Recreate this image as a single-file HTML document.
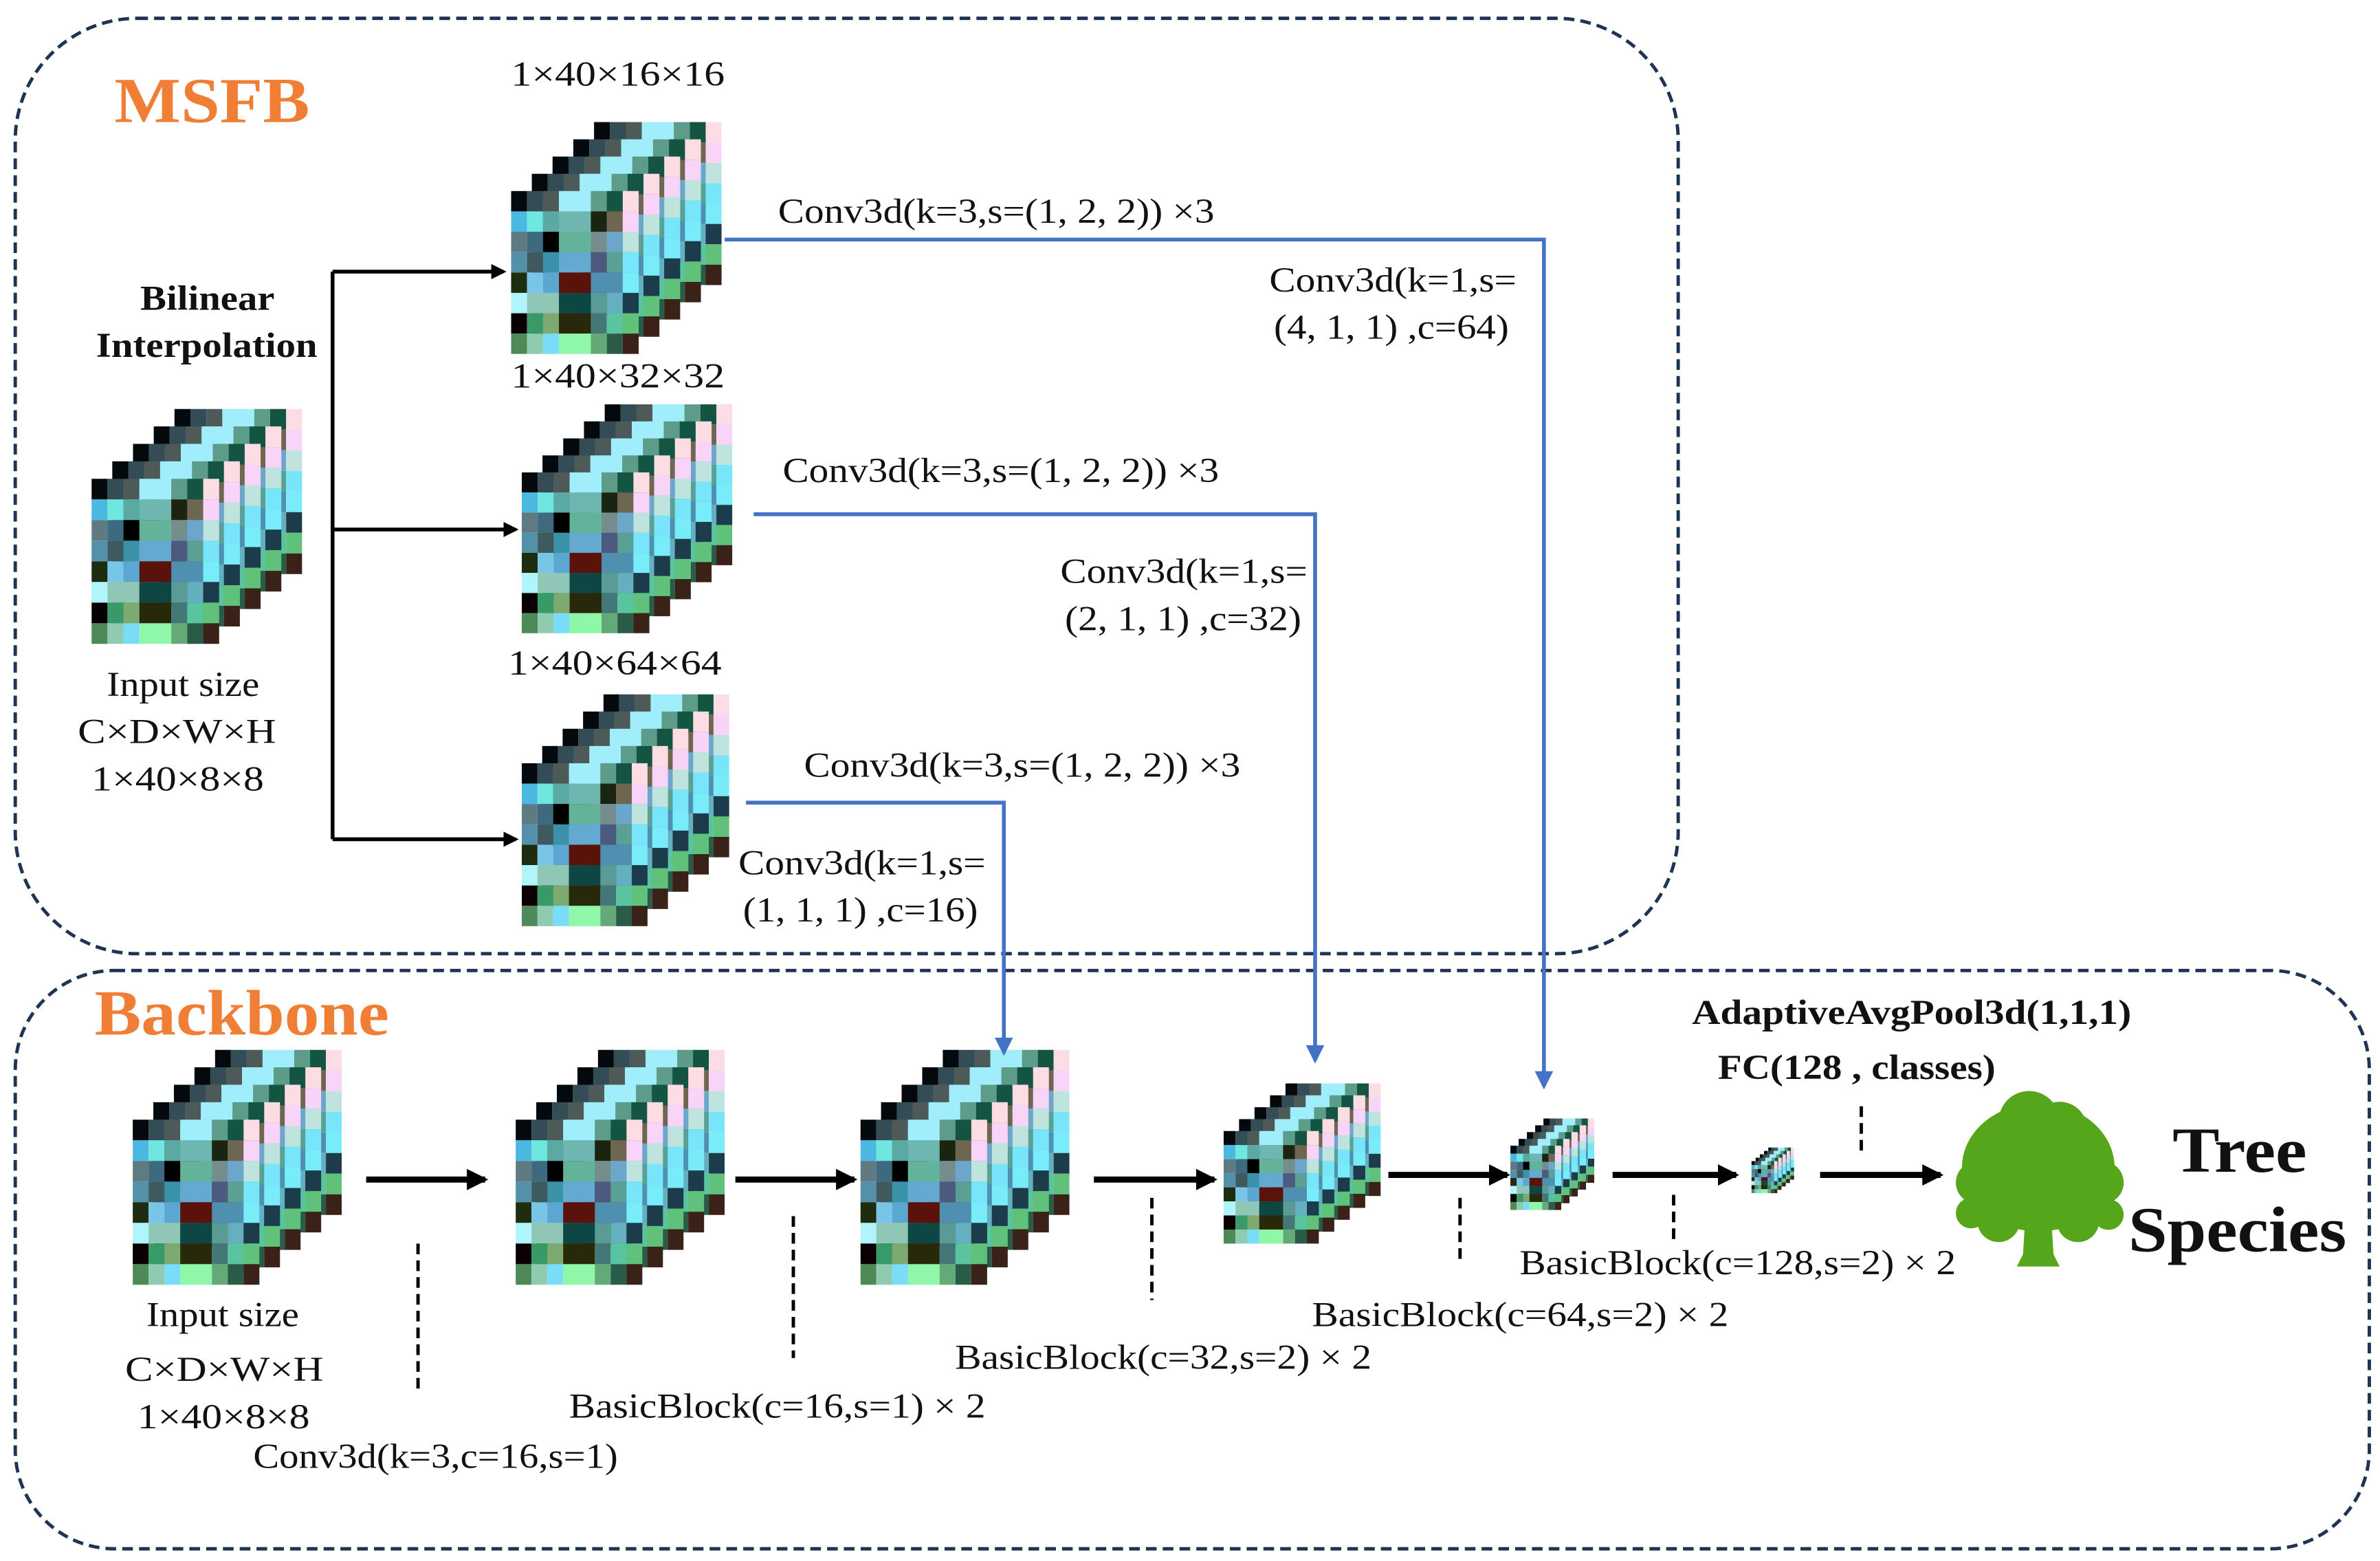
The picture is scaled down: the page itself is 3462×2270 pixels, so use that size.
<!DOCTYPE html>
<html><head><meta charset="utf-8"><style>html,body{margin:0;padding:0;background:#fff}svg{display:block}text{font-family:"Liberation Serif",serif;fill:#111}</style></head><body>
<svg width="3462" height="2270" viewBox="0 0 1560 1023" preserveAspectRatio="none" xmlns="http://www.w3.org/2000/svg">
<defs>
<marker id="ab" markerWidth="10" markerHeight="10" refX="8" refY="5" orient="auto" markerUnits="userSpaceOnUse"><path d="M0,0 L10,5 L0,10 z" fill="#000"/></marker>
<marker id="abl" markerWidth="12" markerHeight="12" refX="10" refY="6" orient="auto" markerUnits="userSpaceOnUse"><path d="M0,0 L12,6 L0,12 z" fill="#4472c4"/></marker>
<marker id="ab2" markerWidth="14" markerHeight="14" refX="12" refY="7" orient="auto" markerUnits="userSpaceOnUse"><path d="M0,0 L14,7 L0,14 z" fill="#000"/></marker>
<g id="s">
<rect x="0" y="0" width="10" height="13" fill="#03090c"/><rect x="10" y="0" width="10" height="13" fill="#334c55"/><rect x="20" y="0" width="10" height="13" fill="#4d5a57"/><rect x="30" y="0" width="20" height="13" fill="#a0eefc"/><rect x="50" y="0" width="10" height="13" fill="#5e9c8a"/><rect x="60" y="0" width="10" height="13" fill="#135443"/><rect x="70" y="0" width="10" height="13" fill="#fbdde3"/>
<rect x="0" y="13" width="10" height="13" fill="#4ab8e0"/><rect x="10" y="13" width="10" height="13" fill="#6fe6e0"/><rect x="20" y="13" width="10" height="13" fill="#5aa9a3"/><rect x="30" y="13" width="20" height="13" fill="#6db7b0"/><rect x="50" y="13" width="10" height="13" fill="#1a2410"/><rect x="60" y="13" width="10" height="13" fill="#6e6650"/><rect x="70" y="13" width="10" height="13" fill="#f9d4f9"/>
<rect x="0" y="26" width="10" height="13" fill="#5f7a80"/><rect x="10" y="26" width="10" height="13" fill="#3e6a80"/><rect x="20" y="26" width="10" height="13" fill="#000"/><rect x="30" y="26" width="20" height="13" fill="#63b39b"/><rect x="50" y="26" width="10" height="13" fill="#758d8d"/><rect x="60" y="26" width="10" height="13" fill="#6ca7cb"/><rect x="70" y="26" width="10" height="13" fill="#bfe3dd"/>
<rect x="0" y="39" width="10" height="13" fill="#5291a9"/><rect x="10" y="39" width="10" height="13" fill="#3e5a5e"/><rect x="20" y="39" width="10" height="13" fill="#3a92a8"/><rect x="30" y="39" width="20" height="13" fill="#64a9d0"/><rect x="50" y="39" width="10" height="13" fill="#4d5a80"/><rect x="60" y="39" width="10" height="13" fill="#5aa095"/><rect x="70" y="39" width="10" height="13" fill="#79e5fa"/>
<rect x="0" y="52" width="10" height="13" fill="#1e2c10"/><rect x="10" y="52" width="10" height="13" fill="#78c5e8"/><rect x="20" y="52" width="10" height="13" fill="#5aa7d2"/><rect x="30" y="52" width="20" height="13" fill="#5a120b"/><rect x="50" y="52" width="20" height="13" fill="#4f8fb0"/><rect x="70" y="52" width="10" height="13" fill="#79ecfa"/>
<rect x="0" y="65" width="10" height="13" fill="#b0f5fc"/><rect x="10" y="65" width="20" height="13" fill="#8fc6b6"/><rect x="30" y="65" width="20" height="13" fill="#0e4644"/><rect x="50" y="65" width="10" height="13" fill="#5a9c95"/><rect x="60" y="65" width="10" height="13" fill="#64b0c0"/><rect x="70" y="65" width="10" height="13" fill="#1c3c4c"/>
<rect x="0" y="78" width="10" height="13" fill="#0a0004"/><rect x="10" y="78" width="10" height="13" fill="#399a69"/><rect x="20" y="78" width="10" height="13" fill="#7daa70"/><rect x="30" y="78" width="20" height="13" fill="#28280a"/><rect x="50" y="78" width="10" height="13" fill="#447878"/><rect x="60" y="78" width="10" height="13" fill="#5ac3a0"/><rect x="70" y="78" width="10" height="13" fill="#60c27a"/>
<rect x="0" y="91" width="10" height="13" fill="#4e8a58"/><rect x="10" y="91" width="10" height="13" fill="#8fcbb0"/><rect x="20" y="91" width="10" height="13" fill="#79dcf8"/><rect x="30" y="91" width="20" height="13" fill="#8ef8a8"/><rect x="50" y="91" width="10" height="13" fill="#64aa78"/><rect x="60" y="91" width="10" height="13" fill="#2a5a48"/><rect x="70" y="91" width="10" height="13" fill="#3a2218"/>
</g>
<symbol id="c" viewBox="0 0 132 148" preserveAspectRatio="none">
<use href="#s" x="52" y="0"/><use href="#s" x="39" y="11"/><use href="#s" x="26" y="22"/><use href="#s" x="13" y="33"/><use href="#s" x="0" y="44"/>
</symbol>
</defs>

<rect x="10" y="12" width="1090" height="613" rx="80" fill="none" stroke="#1f3355" stroke-width="2.2" stroke-dasharray="7,4"/>
<rect x="10" y="636" width="1543" height="379" rx="65" fill="none" stroke="#1f3355" stroke-width="2.2" stroke-dasharray="7,4"/>

<text x="75" y="80" font-size="42" font-weight="bold" style="fill:#f07e35" textLength="128" lengthAdjust="spacingAndGlyphs">MSFB</text>
<text x="62" y="678" font-size="42" font-weight="bold" style="fill:#f07e35" textLength="193" lengthAdjust="spacingAndGlyphs">Backbone</text>

<use href="#c" x="60" y="268" width="138" height="154"/>
<use href="#c" x="335" y="80" width="138" height="152"/>
<use href="#c" x="342" y="265" width="138" height="150"/>
<use href="#c" x="342" y="455" width="136" height="152"/>

<use href="#c" x="87" y="688" width="137" height="154"/>
<use href="#c" x="338" y="688" width="137" height="154"/>
<use href="#c" x="564" y="688" width="137" height="154"/>
<use href="#c" x="802" y="710" width="103" height="105"/>
<use href="#c" x="990" y="733" width="55" height="60"/>
<use href="#c" x="1148" y="752" width="28" height="30"/>

<g stroke="#000" stroke-width="2.5" fill="none">
<path d="M218,178 L218,550"/>
<path d="M218,178 L330,178" marker-end="url(#ab)"/>
<path d="M218,347 L338,347" marker-end="url(#ab)"/>
<path d="M218,550 L338,550" marker-end="url(#ab)"/>
</g>

<g stroke="#4472c4" stroke-width="2.5" fill="none">
<path d="M475,157 L1012,157 L1012,712" marker-end="url(#abl)"/>
<path d="M494,337 L862,337 L862,695" marker-end="url(#abl)"/>
<path d="M489,526 L658,526 L658,690" marker-end="url(#abl)"/>
</g>

<g stroke="#000" stroke-width="4" fill="none">
<path d="M240,773 L318,773" marker-end="url(#ab2)"/>
<path d="M482,773 L560,773" marker-end="url(#ab2)"/>
<path d="M717,773 L796,773" marker-end="url(#ab2)"/>
<path d="M910,770 L988,770" marker-end="url(#ab2)"/>
<path d="M1057,770 L1138,770" marker-end="url(#ab2)"/>
<path d="M1193,770 L1272,770" marker-end="url(#ab2)"/>
</g>
<g stroke="#000" stroke-width="2.2" stroke-dasharray="7,4" fill="none">
<path d="M274,815 L274,910"/>
<path d="M520,797 L520,890"/>
<path d="M755,785 L755,852"/>
<path d="M957,785 L957,828"/>
<path d="M1097,783 L1097,815"/>
<path d="M1220,725 L1220,757"/>
</g>

<g fill="#56a61c">
<ellipse cx="1336" cy="765" rx="50" ry="42"/>
<circle cx="1330" cy="735" r="20"/><circle cx="1350" cy="740" r="18"/>
<circle cx="1296" cy="775" r="14"/><circle cx="1378" cy="775" r="14"/>
<circle cx="1292" cy="795" r="10"/><circle cx="1382" cy="796" r="10"/>
<circle cx="1310" cy="800" r="14"/><circle cx="1362" cy="800" r="14"/>
<path d="M1328,790 L1344,790 L1346,822 L1350,830 L1322,830 L1326,822 z"/>
</g>

<g font-size="23">
<text x="335" y="56" textLength="140" lengthAdjust="spacingAndGlyphs">1×40×16×16</text>
<text x="335" y="254" textLength="140" lengthAdjust="spacingAndGlyphs">1×40×32×32</text>
<text x="333" y="442" textLength="140" lengthAdjust="spacingAndGlyphs">1×40×64×64</text>
<text x="92" y="203" font-weight="bold" textLength="88" lengthAdjust="spacingAndGlyphs">Bilinear</text>
<text x="63" y="234" font-weight="bold" textLength="145" lengthAdjust="spacingAndGlyphs">Interpolation</text>
<text x="70" y="456" textLength="100" lengthAdjust="spacingAndGlyphs">Input size</text>
<text x="51" y="487" textLength="130" lengthAdjust="spacingAndGlyphs">C×D×W×H</text>
<text x="60" y="518" textLength="113" lengthAdjust="spacingAndGlyphs">1×40×8×8</text>
<text x="510" y="146" textLength="286" lengthAdjust="spacingAndGlyphs">Conv3d(k=3,s=(1, 2, 2)) ×3</text>
<text x="832" y="191" textLength="162" lengthAdjust="spacingAndGlyphs">Conv3d(k=1,s=</text>
<text x="835" y="222" textLength="154" lengthAdjust="spacingAndGlyphs">(4, 1, 1) ,c=64)</text>
<text x="513" y="316" textLength="286" lengthAdjust="spacingAndGlyphs">Conv3d(k=3,s=(1, 2, 2)) ×3</text>
<text x="695" y="382" textLength="162" lengthAdjust="spacingAndGlyphs">Conv3d(k=1,s=</text>
<text x="698" y="413" textLength="155" lengthAdjust="spacingAndGlyphs">(2, 1, 1) ,c=32)</text>
<text x="527" y="509" textLength="286" lengthAdjust="spacingAndGlyphs">Conv3d(k=3,s=(1, 2, 2)) ×3</text>
<text x="484" y="573" textLength="162" lengthAdjust="spacingAndGlyphs">Conv3d(k=1,s=</text>
<text x="487" y="604" textLength="154" lengthAdjust="spacingAndGlyphs">(1, 1, 1) ,c=16)</text>

<text x="96" y="869" textLength="100" lengthAdjust="spacingAndGlyphs">Input size</text>
<text x="82" y="905" textLength="130" lengthAdjust="spacingAndGlyphs">C×D×W×H</text>
<text x="90" y="936" textLength="113" lengthAdjust="spacingAndGlyphs">1×40×8×8</text>
<text x="166" y="962" textLength="239" lengthAdjust="spacingAndGlyphs">Conv3d(k=3,c=16,s=1)</text>
<text x="373" y="929" textLength="273" lengthAdjust="spacingAndGlyphs">BasicBlock(c=16,s=1) × 2</text>
<text x="626" y="897" textLength="273" lengthAdjust="spacingAndGlyphs">BasicBlock(c=32,s=2) × 2</text>
<text x="860" y="869" textLength="273" lengthAdjust="spacingAndGlyphs">BasicBlock(c=64,s=2) × 2</text>
<text x="996" y="835" textLength="286" lengthAdjust="spacingAndGlyphs">BasicBlock(c=128,s=2) × 2</text>
<text x="1109" y="671" font-weight="bold" textLength="288" lengthAdjust="spacingAndGlyphs">AdaptiveAvgPool3d(1,1,1)</text>
<text x="1126" y="707" font-weight="bold" textLength="182" lengthAdjust="spacingAndGlyphs">FC(128 , classes)</text>
</g>
<text x="1424" y="768" font-size="42" font-weight="bold" textLength="88" lengthAdjust="spacingAndGlyphs">Tree</text>
<text x="1395" y="820" font-size="42" font-weight="bold" textLength="143" lengthAdjust="spacingAndGlyphs">Species</text>
</svg>
</body></html>
